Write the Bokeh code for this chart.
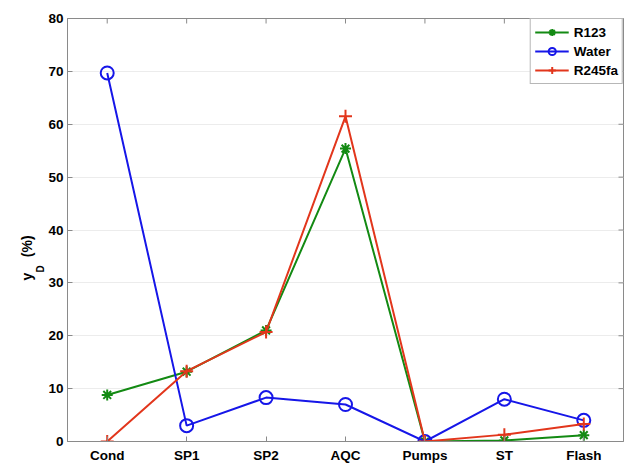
import math
from bokeh.plotting import figure
from bokeh.models import FixedTicker, Range1d, Legend, Title
from bokeh.embed import file_html
from bokeh.resources import INLINE

categories = ["Cond", "SP1", "SP2", "AQC", "Pumps", "ST", "Flash"]
r123 = [8.8, 13.2, 21.0, 55.4, 0.0, 0.2, 1.2]
water = [69.7, 3.0, 8.3, 7.0, 0.0, 8.0, 4.0]
r245fa = [0.0, 13.3, 20.7, 61.5, 0.0, 1.3, 3.3]
y_ticks = [0, 10, 20, 30, 40, 50, 60, 70, 80]

xs = list(range(1, len(categories) + 1))

FONT = "Liberation Sans"
AX = "#8a8a8a"

p = figure(width=632, height=463, output_backend="svg", toolbar_location=None,
           x_range=Range1d(0.5, 7.5), y_range=Range1d(0, 80),
           frame_width=556, frame_height=423,
           min_border_left=67, min_border_right=9, min_border_top=18, min_border_bottom=22)
p.background_fill_color = "white"
p.border_fill_color = "white"
p.outline_line_color = AX
p.outline_line_width = 1

p.xgrid.visible = False
p.ygrid.ticker = FixedTicker(ticks=y_ticks)
p.ygrid.grid_line_color = "#ececec"
p.ygrid.grid_line_width = 1

for ax in (p.xaxis[0], p.yaxis[0]):
    ax.axis_line_color = AX
    ax.major_tick_line_color = AX
    ax.major_tick_in = 5
    ax.major_tick_out = 0
    ax.minor_tick_line_color = None
    ax.major_label_text_font = FONT
    ax.major_label_text_font_style = "bold"
    ax.major_label_text_font_size = "13.5px"
    ax.major_label_text_color = "black"

p.xaxis.ticker = FixedTicker(ticks=xs)
p.xaxis.major_label_overrides = {x: c for x, c in zip(xs, categories)}
p.xaxis.major_label_standoff = 6
p.yaxis.ticker = FixedTicker(ticks=y_ticks)
p.yaxis.major_label_standoff = 4

# inward tick marks on the top and right edges of the box (clipped to the frame)
p.scatter(xs, [p.y_range.end] * len(xs), marker="dash", angle=math.pi / 2,
          size=10, line_color=AX, line_width=1)
p.scatter([p.x_range.end] * len(y_ticks), y_ticks, marker="dash",
          size=10, line_color=AX, line_width=1)

GREEN = "#138a13"
BLUE = "#1616e8"
RED = "#e2361c"

l1 = p.line(xs, r123, line_color=GREEN, line_width=2)
m1 = p.scatter(xs, r123, marker="asterisk", size=11, line_color=GREEN, line_width=2)
l2 = p.line(xs, water, line_color=BLUE, line_width=2)
m2 = p.scatter(xs, water, marker="circle", size=13, line_color=BLUE, fill_color=None, line_width=2)
l3 = p.line(xs, r245fa, line_color=RED, line_width=2)
m3 = p.scatter(xs, r245fa, marker="cross", size=13, line_color=RED, line_width=2)

legend = Legend(items=[("R123", [l1, m1]), ("Water", [l2, m2]), ("R245fa", [l3, m3])],
                location="top_right", margin=0, padding=4, spacing=1,
                glyph_width=34, glyph_height=18, label_height=18, label_standoff=5,
                label_text_font=FONT, label_text_font_style="bold",
                label_text_font_size="13.5px", label_text_color="black",
                border_line_color="#707070", border_line_width=1,
                background_fill_color="white", background_fill_alpha=1.0)
p.add_layout(legend)

# y-axis label "y_D (%)": main text and subscript as two side titles
sub = Title(text="D", align="left", offset=169, standoff=0,
            text_font=FONT, text_font_style="bold", text_font_size="10px",
            text_color="black")
main = Title(text="y\u00a0\u00a0\u00a0\u00a0(%)", align="left", offset=161, standoff=-5,
             text_font=FONT, text_font_style="bold", text_font_size="14px",
             text_color="black")
p.add_layout(sub, "left")
p.add_layout(main, "left")

open("out.html", "w").write(file_html(p, INLINE))
